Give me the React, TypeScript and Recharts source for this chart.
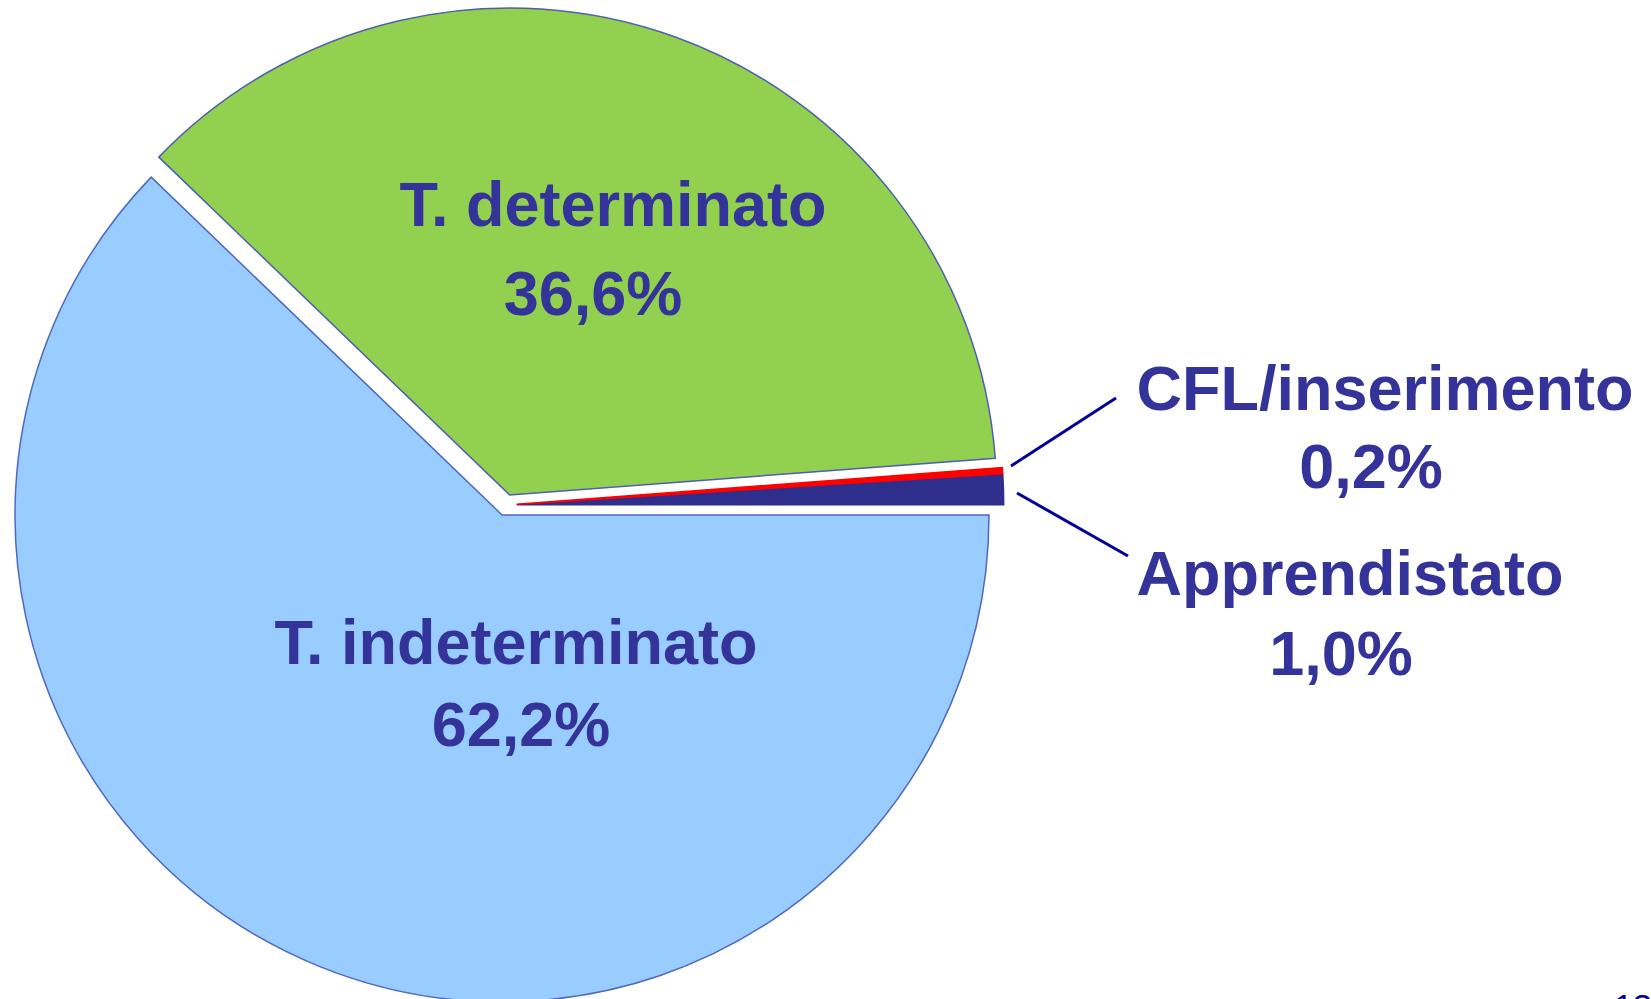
import React from 'react';
import { PieChart, Pie, Cell } from 'recharts';

// ---- data ----
const CATEGORIES = ['Apprendistato', 'CFL/inserimento', 'T. determinato', 'T. indeterminato'];
const VALUES = [1.0, 0.2, 36.6, 62.2];
const PCT_LABELS = ['1,0%', '0,2%', '36,6%', '62,2%'];

// ---- styles ----
const FILLS = ['#2E2E8C', '#FF0000', '#92D050', '#99CCFF'];
const STROKES = ['#2E2E8C', '#FF0000', '#4F5FAE', '#5068C4'];
const TEXT_COLOR = '#333399';
const LINE_COLOR = '#000099';
const FONT = '"Liberation Sans", Arial, Helvetica, sans-serif';

const W = 1651;
const H = 999;
const CX = 506;
const CY = 505;
const R = 487;
const EXPLODE = 10.7;

// label layout (text positions, leader lines)
const LABEL_LAYOUT: { nameX: number; nameY: number; pctX: number; pctY: number; line?: number[] }[] = [
  { nameX: 1350, nameY: 595, pctX: 1341, pctY: 675, line: [1017, 493, 1128, 556] },
  { nameX: 1385, nameY: 410, pctX: 1371, pctY: 488, line: [1011, 466, 1116, 398] },
  { nameX: 613, nameY: 226, pctX: 593, pctY: 315 },
  { nameX: 516, nameY: 664, pctX: 521, pctY: 746 },
];

const data = CATEGORIES.map((name, i) => ({ name, value: VALUES[i] }));
const total = VALUES.reduce((a, b) => a + b, 0);

// mid angle of each slice (degrees, counter-clockwise from 3 o'clock)
const midAngles = (() => {
  let cum = 0;
  return VALUES.map((v) => {
    const start = (cum / total) * 360;
    cum += v;
    const end = (cum / total) * 360;
    return (start + end) / 2;
  });
})();

function renderLabel(i: number) {
  const l = LABEL_LAYOUT[i];
  return (
    <g>
      {l.line ? (
        <line x1={l.line[0]} y1={l.line[1]} x2={l.line[2]} y2={l.line[3]} stroke={LINE_COLOR} strokeWidth={3} />
      ) : null}
      <text x={l.nameX} y={l.nameY} textAnchor="middle" fill={TEXT_COLOR} fontFamily={FONT} fontWeight="bold" fontSize={63}>
        {CATEGORIES[i]}
      </text>
      <text x={l.pctX} y={l.pctY} textAnchor="middle" fill={TEXT_COLOR} fontFamily={FONT} fontWeight="bold" fontSize={63}>
        {PCT_LABELS[i]}
      </text>
    </g>
  );
}

export default function App() {
  return (
    <div style={{ position: 'absolute', left: 0, top: 0, width: W, height: H, overflow: 'hidden', background: '#fff' }}>
      <PieChart width={W} height={H} margin={{ top: 0, right: 0, bottom: 0, left: 0 }}>
        {VALUES.map((_, k) => {
          const rad = (midAngles[k] * Math.PI) / 180;
          const cx = CX + EXPLODE * Math.cos(rad);
          const cy = CY - EXPLODE * Math.sin(rad);
          return (
            <Pie
              key={k}
              data={data}
              dataKey="value"
              nameKey="name"
              cx={cx}
              cy={cy}
              innerRadius={0}
              outerRadius={R}
              startAngle={0}
              endAngle={360}
              isAnimationActive={false}
              labelLine={false}
              label={(p: any) => (p.index === k ? renderLabel(k) : null)}
            >
              {data.map((_, j) => (
                <Cell
                  key={j}
                  fill={j === k ? FILLS[j] : 'none'}
                  stroke={j === k ? STROKES[j] : 'none'}
                  strokeWidth={j === k ? 1.5 : 0}
                />
              ))}
            </Pie>
          );
        })}
      </PieChart>
      <div
        style={{
          position: 'absolute',
          left: 1614,
          top: 989,
          fontFamily: FONT,
          fontSize: 34,
          color: LINE_COLOR,
          lineHeight: '34px',
          whiteSpace: 'nowrap',
        }}
      >
        13
      </div>
    </div>
  );
}
